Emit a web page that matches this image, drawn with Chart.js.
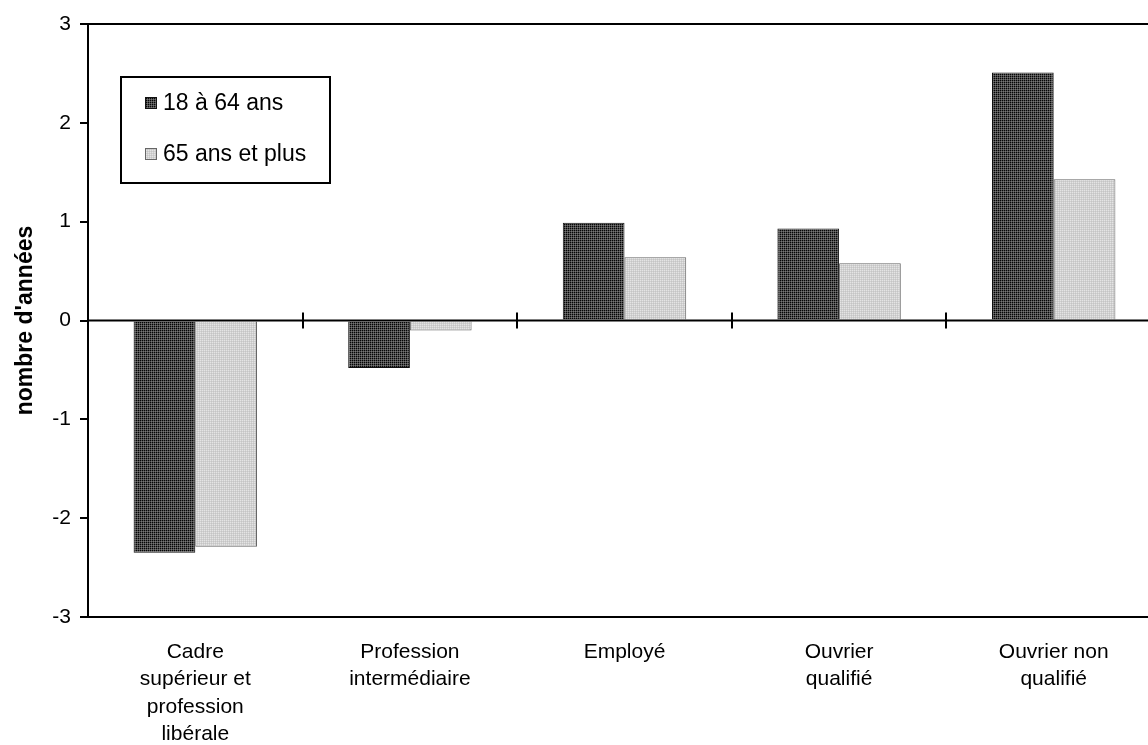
<!DOCTYPE html>
<html lang="fr">
<head>
<meta charset="utf-8">
<script src="https://cdn.jsdelivr.net/npm/chart.js@4.4.1/dist/chart.umd.min.js"></script>
<style>
  html, body { margin: 0; padding: 0; background: #fff; overflow: hidden; }
  #wrap { width: 1162px; height: 745px; position: relative; }
</style>
</head>
<body>
<div id="wrap"><canvas id="c"></canvas></div>
<script>
// Écart d'espérance de vie par catégorie sociale (en années)
const categories = [
  ['Cadre', 'supérieur et', 'profession', 'libérale'],
  ['Profession', 'intermédiaire'],
  ['Employé'],
  ['Ouvrier', 'qualifié'],
  ['Ouvrier non', 'qualifié']
];
const seriesNames = ['18 à 64 ans', '65 ans et plus'];
const values18a64 = [-2.35, -0.48, 0.99, 0.93, 2.51];
const values65plus = [-2.29, -0.10, 0.64, 0.58, 1.43];
const yTicks = [-3, -2, -1, 0, 1, 2, 3];
const yTitle = "nombre d'années";

const FONT = "'Liberation Sans', Arial, sans-serif";

// Motifs tramés des barres
function makePattern(a, b, c, d) {
  const t = document.createElement('canvas');
  t.width = 2; t.height = 2;
  const g = t.getContext('2d');
  g.fillStyle = a; g.fillRect(0, 0, 1, 1);
  g.fillStyle = b; g.fillRect(1, 0, 1, 1);
  g.fillStyle = c; g.fillRect(0, 1, 1, 1);
  g.fillStyle = d; g.fillRect(1, 1, 1, 1);
  return document.getElementById('c').getContext('2d').createPattern(t, 'repeat');
}
const darkFill = makePattern('#050505', '#4c4c4c', '#4c4c4c', '#767676');
const lightFill = makePattern('#e4e4e4', '#d0d0d0', '#d0d0d0', '#c4c4c4');

// Petites croix sur la ligne zéro entre les catégories
const zeroTicks = {
  id: 'zeroTicks',
  afterDatasetsDraw(chart) {
    const x = chart.scales.x, y = chart.scales.y;
    const y0 = y.getPixelForValue(0);
    const ctx = chart.ctx;
    ctx.save();
    ctx.strokeStyle = '#000';
    ctx.lineWidth = 2;
    ctx.beginPath();
    ctx.moveTo(chart.chartArea.left, y0);
    ctx.lineTo(chart.chartArea.right, y0);
    ctx.stroke();
    for (let i = 1; i < categories.length; i++) {
      const px = Math.round((x.getPixelForValue(i - 1) + x.getPixelForValue(i)) / 2);
      ctx.beginPath();
      ctx.moveTo(px, y0 - 8);
      ctx.lineTo(px, y0 + 8);
      ctx.stroke();
    }
    ctx.restore();
  }
};

// Légende encadrée dans la zone du graphique
const boxedLegend = {
  id: 'boxedLegend',
  afterDraw(chart) {
    const ctx = chart.ctx;
    const left = 121, top = 77, w = 209, h = 106;
    ctx.save();
    ctx.fillStyle = '#fff';
    ctx.fillRect(left, top, w, h);
    ctx.strokeStyle = '#000';
    ctx.lineWidth = 2;
    ctx.strokeRect(left, top, w, h);
    ctx.font = '23px ' + FONT;
    ctx.textBaseline = 'middle';
    chart.data.datasets.forEach((ds, i) => {
      const cy = top + 26 + i * 51;
      ctx.fillStyle = ds.backgroundColor;
      ctx.fillRect(left + 24, cy - 6, 12, 12);
      ctx.strokeStyle = ds.borderColor;
      ctx.lineWidth = 1;
      ctx.strokeRect(left + 24.5, cy - 5.5, 11, 11);
      ctx.fillStyle = '#000';
      ctx.fillText(ds.label, left + 42, cy + 1);
    });
    ctx.restore();
  }
};

new Chart(document.getElementById('c'), {
  type: 'bar',
  data: {
    labels: categories,
    datasets: [
      { label: seriesNames[0], data: values18a64, backgroundColor: darkFill, borderColor: '#111', borderWidth: 1 },
      { label: seriesNames[1], data: values65plus, backgroundColor: lightFill, borderColor: '#666', borderWidth: 1 }
    ]
  },
  options: {
    responsive: true,
    maintainAspectRatio: false,
    animation: false,
    layout: { padding: { top: 24, right: 1, left: 0, bottom: 0 } },
    plugins: { legend: { display: false }, tooltip: { enabled: false } },
    datasets: { bar: { categoryPercentage: 0.575, barPercentage: 1 } },
    scales: {
      x: {
        grid: { display: false, drawTicks: false },
        border: { display: true, color: '#000', width: 2 },
        ticks: {
          color: '#000', font: { family: FONT, size: 21, lineHeight: 1.31 },
          padding: 21, maxRotation: 0, autoSkip: false
        },
        afterFit(scale) { scale.height = 128; }
      },
      y: {
        min: -3, max: 3,
        afterBuildTicks(scale) { scale.ticks = yTicks.map(v => ({ value: v })); },
        grid: {
          color: ctx => (ctx.tick && ctx.tick.value === 3) ? '#000' : 'rgba(0,0,0,0)',
          lineWidth: 2,
          tickColor: '#000', tickLength: 8, drawTicks: true
        },
        border: { display: true, color: '#000', width: 2 },
        ticks: { color: '#000', font: { family: FONT, size: 21 }, padding: 9 },
        title: {
          display: true, text: yTitle, color: '#000',
          font: { family: FONT, size: 23, weight: 'bold' }, padding: { top: 12, bottom: 4 }
        },
        afterFit(scale) { scale.width = 88; }
      }
    }
  },
  plugins: [zeroTicks, boxedLegend]
});
</script>
</body>
</html>
